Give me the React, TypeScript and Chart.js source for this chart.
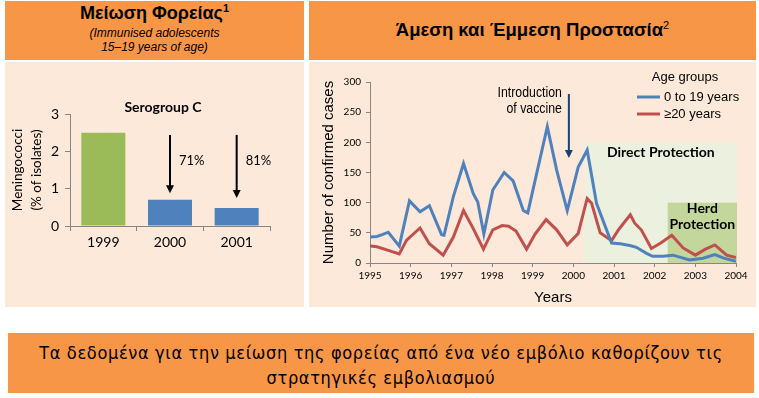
import React, { useEffect, useRef } from 'react';
import { Chart, registerables } from 'chart.js';

Chart.register(...registerables);

const ORANGE = '#F79646';
const PEACH = '#FDE9D9';
const GREEN = '#9BBB59';
const BLUE = '#4F81BD';
const RED = '#C0504D';
const AXIS = '#868686';

// ---- Left chart: Serogroup C carriage ----
const barYears = ['1999', '2000', '2001'];
const carriagePct = [2.5, 0.7, 0.48];
const barColors = [GREEN, BLUE, BLUE];
const reductionLabels = ['', '71%', '81%'];
const arrowFrom = [0, 2.44, 2.44];
const arrowTo = [0, 0.88, 0.75];

// ---- Right chart: confirmed cases ----
const youngYears = [
  1995.0, 1995.17, 1995.3, 1995.45, 1995.72, 1995.97, 1996.23, 1996.46, 1996.76, 1996.82,
  1997.05, 1997.3, 1997.54, 1997.65, 1997.8, 1998.02, 1998.3, 1998.52, 1998.77, 1998.88,
  1999.06, 1999.36, 1999.59, 1999.85, 2000.12, 2000.34, 2000.57, 2000.94, 2001.15, 2001.39,
  2001.55, 2001.8, 2001.95, 2002.2, 2002.45, 2002.86, 2003.19, 2003.48, 2003.7, 2004.0,
];
const youngCases = [
  43, 44, 47, 51, 28, 103, 85, 95, 47, 46,
  110, 165, 115, 101, 48, 121, 150, 136, 87, 83,
  137, 226, 154, 87, 159, 187, 99, 33, 32, 29,
  26, 16, 11, 11, 13, 5, 8, 14, 8, 3,
];
const olderYears = [
  1995.0, 1995.17, 1995.45, 1995.72, 1995.9, 1996.23, 1996.46, 1996.8, 1997.05, 1997.3,
  1997.54, 1997.79, 1998.02, 1998.25, 1998.41, 1998.59, 1998.85, 1999.06, 1999.33, 1999.59,
  1999.85, 2000.12, 2000.34, 2000.45, 2000.66, 2000.94, 2001.12, 2001.4, 2001.51, 2001.67,
  2001.92, 2002.15, 2002.42, 2002.7, 2003.0, 2003.25, 2003.48, 2003.77, 2004.0,
];
const olderCases = [
  28, 27, 21, 15, 38, 58, 32, 13, 43, 87,
  57, 23, 55, 62, 61, 53, 23, 48, 72, 55,
  30, 49, 107, 99, 50, 37, 56, 80, 66, 55,
  24, 33, 46, 25, 13, 23, 30, 13, 9,
];
const seriesNames = ['0 to 19 years', '≥20 years'];
const vaccineYear = 1999.89;
const directStart = 2000.28;
const herdStart = 2002.32;
const protectionEnd = 2004;
const directTop = 200;
const herdTop = 100;

const CAL = 'Lato, "Open Sans", sans-serif';
const ARIAL = '"Liberation Sans", Arial, sans-serif';
const NARROW = '"Liberation Sans Narrow", "DejaVu Sans Condensed", "Liberation Sans", sans-serif';

function drawArrow(ctx: CanvasRenderingContext2D, x: number, y1: number, y2: number, color: string, w: number) {
  ctx.save();
  ctx.strokeStyle = color;
  ctx.fillStyle = color;
  ctx.lineWidth = w;
  ctx.beginPath();
  ctx.moveTo(x, y1);
  ctx.lineTo(x, y2 - 7);
  ctx.stroke();
  ctx.beginPath();
  ctx.moveTo(x - 4, y2 - 8);
  ctx.lineTo(x + 4, y2 - 8);
  ctx.lineTo(x, y2);
  ctx.closePath();
  ctx.fill();
  ctx.restore();
}

function narrowText(ctx: CanvasRenderingContext2D, text: string, xRight: number, y: number) {
  ctx.save();
  ctx.translate(xRight, y);
  ctx.scale(0.82, 1);
  ctx.textAlign = 'right';
  ctx.textBaseline = 'middle';
  ctx.fillText(text, 0, 0);
  ctx.restore();
}

const leftDecor = {
  id: 'leftDecor',
  afterDraw(chart: any) {
    const { ctx, scales, chartArea } = chart;
    const x = scales.x;
    const y = scales.y;
    ctx.save();
    ctx.fillStyle = '#000';
    ctx.font = `bold 14px ${CAL}`;
    ctx.textAlign = 'center';
    ctx.textBaseline = 'middle';
    ctx.fillText('Serogroup C', chartArea.left + 93, chartArea.top - 7);
    ctx.font = `13.5px ${CAL}`;
    const midY = (chartArea.top + chartArea.bottom) / 2;
    ctx.translate(13, midY);
    ctx.rotate(-Math.PI / 2);
    ctx.fillText('Meningococci', 0, 0);
    ctx.fillText('(% of isolates)', 0, 19);
    ctx.restore();
    ctx.save();
    for (let i = 0; i < barYears.length; i++) {
      if (!reductionLabels[i]) continue;
      const cx = x.getPixelForValue(i);
      drawArrow(ctx, cx, y.getPixelForValue(arrowFrom[i]), y.getPixelForValue(arrowTo[i]), '#000', 2);
      ctx.fillStyle = '#000';
      ctx.font = `13px ${CAL}`;
      ctx.textAlign = 'left';
      ctx.textBaseline = 'middle';
      ctx.fillText(reductionLabels[i], cx + 9, y.getPixelForValue(1.75));
    }
    ctx.restore();
  },
};

const rightDecor = {
  id: 'rightDecor',
  beforeDatasetsDraw(chart: any) {
    const { ctx, scales } = chart;
    const x = scales.x;
    const y = scales.y;
    ctx.save();
    const dx0 = x.getPixelForValue(directStart);
    const dx1 = x.getPixelForValue(protectionEnd) + 1;
    const y0 = y.getPixelForValue(0);
    const dy = y.getPixelForValue(directTop);
    ctx.fillStyle = '#EBF1DE';
    ctx.fillRect(dx0, dy, dx1 - dx0, y0 - dy);
    const hx0 = x.getPixelForValue(herdStart);
    const hy = y.getPixelForValue(herdTop);
    ctx.fillStyle = '#C3D69B';
    ctx.fillRect(hx0, hy, dx1 - hx0, y0 - hy);
    ctx.fillStyle = '#000';
    ctx.font = `bold 14px ${CAL}`;
    ctx.textAlign = 'center';
    ctx.textBaseline = 'middle';
    ctx.fillText('Direct Protection', (dx0 + dx1) / 2, dy + 10);
    ctx.fillText('Herd', (hx0 + dx1) / 2, hy + 6);
    ctx.fillText('Protection', (hx0 + dx1) / 2, hy + 22);
    ctx.restore();
  },
  afterDraw(chart: any) {
    const { ctx, scales } = chart;
    const x = scales.x;
    const y = scales.y;
    ctx.save();
    const ax = x.getPixelForValue(vaccineYear);
    drawArrow(ctx, ax, y.getPixelForValue(280), y.getPixelForValue(174), '#1F3F6E', 2);
    ctx.fillStyle = '#000';
    ctx.font = `15px ${ARIAL}`;
    const ty = y.getPixelForValue(282);
    narrowText(ctx, 'Introduction', ax - 7, ty);
    narrowText(ctx, 'of vaccine', ax - 7, ty + 16);
    ctx.font = `13px ${ARIAL}`;
    ctx.textAlign = 'center';
    ctx.textBaseline = 'middle';
    ctx.fillText('Age groups', 376, 15);
    const colors = [BLUE, RED];
    for (let i = 0; i < seriesNames.length; i++) {
      const ly = 35 + i * 17;
      ctx.strokeStyle = colors[i];
      ctx.lineWidth = 3;
      ctx.beginPath();
      ctx.moveTo(328, ly);
      ctx.lineTo(351, ly);
      ctx.stroke();
      ctx.fillStyle = '#000';
      ctx.textAlign = 'left';
      ctx.fillText(seriesNames[i], 355, ly);
    }
    ctx.restore();
  },
};

export default function App() {
  const leftRef = useRef<HTMLCanvasElement>(null);
  const rightRef = useRef<HTMLCanvasElement>(null);

  useEffect(() => {
    const left = new Chart(leftRef.current as HTMLCanvasElement, {
      type: 'bar',
      data: {
        labels: barYears,
        datasets: [
          {
            data: carriagePct,
            backgroundColor: barColors,
            categoryPercentage: 1,
            barPercentage: 0.66,
          },
        ],
      },
      options: {
        responsive: false,
        animation: false,
        layout: { padding: { top: 52, right: 34, bottom: 51, left: 0 } },
        plugins: { legend: { display: false }, tooltip: { enabled: false } },
        scales: {
          x: {
            grid: { drawOnChartArea: false, tickLength: 5, color: AXIS, offset: true },
            border: { color: AXIS },
            ticks: { color: '#000', font: { family: CAL, size: 14 }, padding: 3 },
            afterFit: (s: any) => { s.height = 30; },
          },
          y: {
            min: 0,
            max: 3,
            ticks: { stepSize: 1, color: '#000', font: { family: CAL, size: 14 }, padding: 6 },
            grid: { drawOnChartArea: false, tickLength: 5, color: AXIS },
            border: { color: AXIS },
            afterFit: (s: any) => { s.width = 65; },
          },
        },
      },
      plugins: [leftDecor],
    } as any);

    const right = new Chart(rightRef.current as HTMLCanvasElement, {
      type: 'line',
      data: {
        datasets: [
          {
            label: seriesNames[0],
            data: youngYears.map((v, i) => ({ x: v, y: youngCases[i] })),
            borderColor: BLUE,
            borderWidth: 3,
            pointRadius: 0,
            tension: 0,
          },
          {
            label: seriesNames[1],
            data: olderYears.map((v, i) => ({ x: v, y: olderCases[i] })),
            borderColor: RED,
            borderWidth: 3,
            pointRadius: 0,
            tension: 0,
          },
        ],
      },
      options: {
        responsive: false,
        animation: false,
        layout: { padding: { top: 20, right: 20, bottom: 0, left: 11 } },
        plugins: { legend: { display: false }, tooltip: { enabled: false } },
        scales: {
          x: {
            type: 'linear',
            min: 1995,
            max: 2004,
            ticks: {
              stepSize: 1,
              color: '#000',
              font: { family: CAL, size: 10 },
              padding: 3,
              callback: (v: any) => String(v),
            },
            grid: { drawOnChartArea: false, tickLength: 4, color: AXIS },
            border: { color: AXIS },
            title: {
              display: true,
              text: 'Years',
              color: '#000',
              font: { family: ARIAL, size: 15 },
              padding: { top: 0, bottom: 0 },
            },
            afterFit: (s: any) => { s.height = 44; },
          },
          y: {
            min: 0,
            max: 300,
            ticks: { stepSize: 50, color: '#000', font: { family: CAL, size: 10 }, padding: 5 },
            grid: { drawOnChartArea: false, tickLength: 4, color: AXIS },
            border: { color: AXIS },
            title: {
              display: true,
              text: 'Number of confirmed cases',
              color: '#000',
              font: { family: ARIAL, size: 15 },
              padding: { top: 0, bottom: 0 },
            },
            afterFit: (s: any) => { s.width = 50; },
          },
        },
      },
      plugins: [rightDecor],
    } as any);

    return () => {
      left.destroy();
      right.destroy();
    };
  }, []);

  return (
    <div
      style={{
        position: 'absolute',
        left: 0,
        top: 0,
        width: 759,
        height: 398,
        background: '#fff',
        overflow: 'hidden',
        color: '#000',
      }}
    >
      <div
        style={{
          position: 'absolute',
          left: 5,
          top: 1,
          width: 299,
          height: 59,
          background: ORANGE,
          textAlign: 'center',
          fontFamily: ARIAL,
        }}
      >
        <div style={{ fontWeight: 'bold', fontSize: 18, lineHeight: '20px', marginTop: 2 }}>
          Μείωση Φορείας
          <sup style={{ fontSize: 11, lineHeight: 0 }}>1</sup>
        </div>
        <div style={{ fontStyle: 'italic', fontSize: 12, lineHeight: '14px', marginTop: 3 }}>
          (Immunised adolescents
          <br />
          15–19 years of age)
        </div>
      </div>
      <div
        style={{
          position: 'absolute',
          left: 309,
          top: 1,
          width: 447,
          height: 59,
          background: ORANGE,
          textAlign: 'center',
          fontFamily: ARIAL,
        }}
      >
        <div style={{ fontWeight: 'bold', fontSize: 18.5, lineHeight: '20px', marginTop: 19 }}>
          Άμεση και Έμμεση Προστασία
          <sup style={{ fontSize: 11, lineHeight: 0, fontWeight: 'normal' }}>2</sup>
        </div>
      </div>
      <div style={{ position: 'absolute', left: 5, top: 62, width: 299, height: 245, background: PEACH }}>
        <canvas ref={leftRef} width={299} height={245} style={{ display: 'block' }} />
      </div>
      <div style={{ position: 'absolute', left: 309, top: 62, width: 447, height: 245, background: PEACH }}>
        <canvas ref={rightRef} width={447} height={245} style={{ display: 'block' }} />
      </div>
      <div
        style={{
          position: 'absolute',
          left: 8,
          top: 333,
          width: 746,
          height: 60,
          background: ORANGE,
          display: 'flex',
          alignItems: 'center',
          justifyContent: 'center',
          textAlign: 'center',
          fontFamily: NARROW,
          fontSize: 18,
          letterSpacing: '0.65px',
          lineHeight: '25px',
          boxSizing: 'border-box',
          paddingTop: 3,
        }}
      >
        <div>
          Τα δεδομένα για την μείωση της φορείας από ένα νέο εμβόλιο καθορίζουν τις
          <br />
          στρατηγικές εμβολιασμού
        </div>
      </div>
    </div>
  );
}
